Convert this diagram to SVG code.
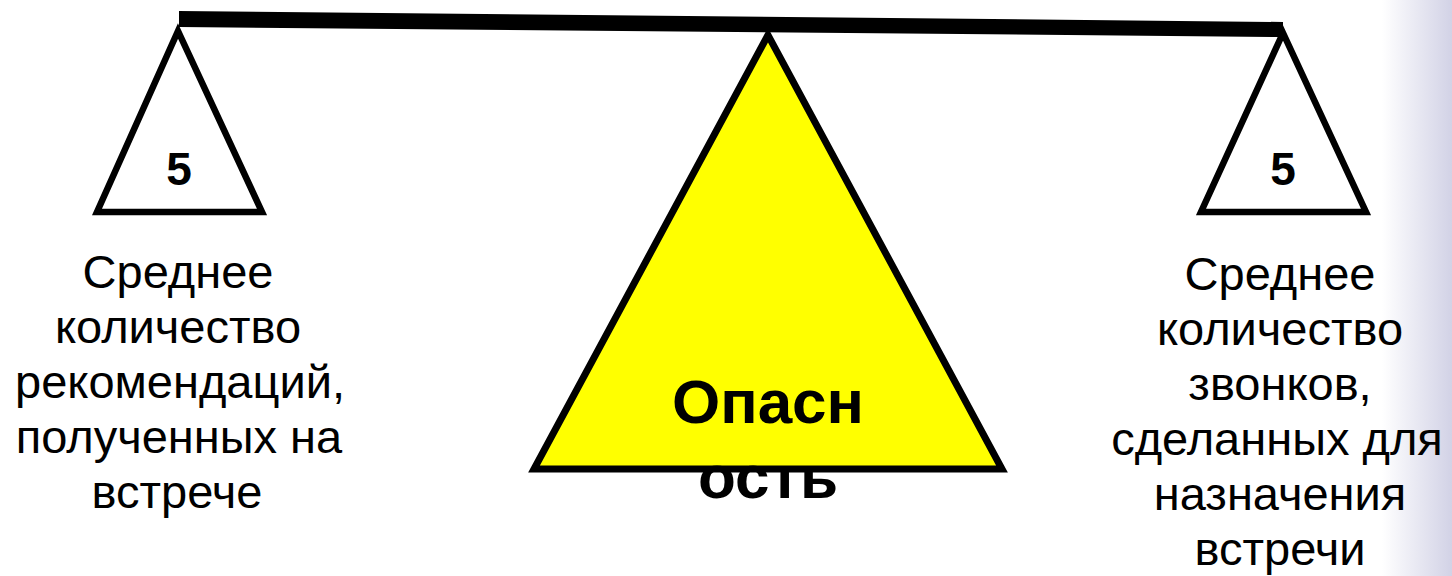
<svg xmlns="http://www.w3.org/2000/svg" width="1452" height="576" viewBox="0 0 1452 576">
<defs>
<linearGradient id="side" x1="0" y1="0" x2="1" y2="0">
<stop offset="0" stop-color="#ffffff"/>
<stop offset="1" stop-color="#d2d2e6"/>
</linearGradient>
<style>
.tri{stroke:#000;stroke-width:6.5;stroke-linejoin:miter;fill:#fff}
.big{stroke:#000;stroke-width:7;stroke-linejoin:miter;fill:#ffff00}
.num{font-family:"Liberation Sans",Arial,sans-serif;font-weight:bold;font-size:46px;fill:#000;text-anchor:middle}
.lbl{font-family:"Liberation Sans",Arial,sans-serif;font-size:47px;fill:#000;text-anchor:middle}
.ctr{font-family:"Liberation Sans",Arial,sans-serif;font-weight:bold;font-size:62px;fill:#000;text-anchor:middle}
</style>
</defs>
<rect width="1452" height="576" fill="#fff"/>
<rect x="1382" y="0" width="70" height="576" fill="url(#side)"/>
<g id="beam">
<polygon points="179,11 1283,22 1283,37 179,27" fill="#000"/>
</g>
<g id="left-pan">
<polygon class="tri" points="178,31 97,212 262,212"/>
<text class="num" x="179" y="185">5</text>
</g>
<g id="right-pan">
<polygon class="tri" points="1283,33 1201,212 1366,212"/>
<text class="num" x="1283" y="185">5</text>
</g>
<g id="fulcrum">
<polygon class="big" points="768,35 534,469 1002,469"/>
<text class="ctr" x="768" y="423">Опасн</text>
<text class="ctr" x="768" y="498">ость</text>
</g>
<g id="left-label">
<text class="lbl" x="178" y="288">Среднее</text>
<text class="lbl" x="178" y="343">количество</text>
<text class="lbl" x="180" y="398">рекомендаций,</text>
<text class="lbl" x="179" y="453">полученных на</text>
<text class="lbl" x="177" y="508">встрече</text>
</g>
<g id="right-label">
<text class="lbl" x="1280" y="290">Среднее</text>
<text class="lbl" x="1280" y="345">количество</text>
<text class="lbl" x="1280" y="400">звонков,</text>
<text class="lbl" x="1277" y="455">сделанных для</text>
<text class="lbl" x="1280" y="510">назначения</text>
<text class="lbl" x="1280" y="565">встречи</text>
</g>
</svg>
